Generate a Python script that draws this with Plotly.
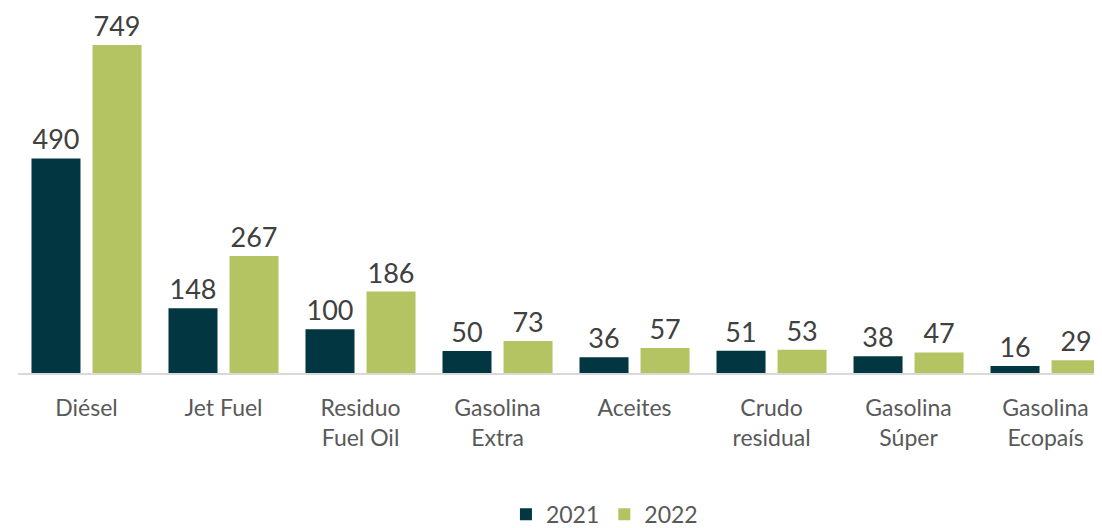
import plotly.graph_objects as go

categories = ["Diésel", "Jet Fuel", "Residuo<br>Fuel Oil", "Gasolina<br>Extra", "Aceites",
              "Crudo<br>residual", "Gasolina<br>Súper", "Gasolina<br>Ecopaís"]
values_2021 = [490, 148, 100, 50, 36, 51, 38, 16]
values_2022 = [749, 267, 186, 73, 57, 53, 47, 29]
series_names = ["2021", "2022"]
colors = ["#023641", "#B4C462"]

W, H = 1094, 528
fig = go.Figure()
for name, vals, col in zip(series_names, [values_2021, values_2022], colors):
    fig.add_trace(go.Bar(
        x=list(range(len(categories))), y=vals, name=name,
        marker=dict(color=col, line=dict(width=0)),
        text=[str(v) for v in vals], textposition="outside",
        textfont=dict(size=27, color="#404040", family="Lato"),
        cliponaxis=False,
    ))

fig.update_layout(
    width=W, height=H,
    margin=dict(l=10, r=0, t=12, b=156),
    paper_bgcolor="white", plot_bgcolor="white",
    barmode="group", bargap=0.109, bargroupgap=0.197,
    font=dict(family="Lato", color="#595959"),
    showlegend=True,
    legend=dict(orientation="h", x=0.541, xanchor="center", y=-0.40, yanchor="middle",
                font=dict(size=23, color="#595959"), itemwidth=30, traceorder="normal"),
)
fig.update_xaxes(
    range=[-0.5, 7.412], tickmode="array", tickvals=list(range(len(categories))),
    ticktext=categories, tickfont=dict(size=23, color="#595959"),
    showline=True, linecolor="#D9D9D9", linewidth=2, showgrid=False, zeroline=False,
    ticks="", ticklabelstandoff=13,
)
fig.update_yaxes(range=[0, 806], visible=False, showgrid=False, zeroline=False)

fig.write_html("out.html")
